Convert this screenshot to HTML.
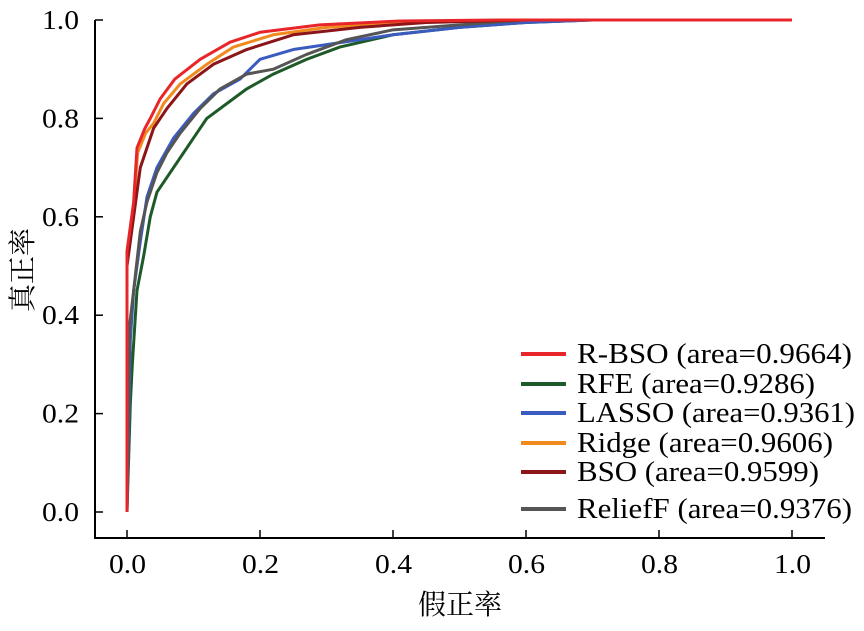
<!DOCTYPE html>
<html><head><meta charset="utf-8"><style>
body{margin:0;background:#fff;}
svg text{font-family:"Liberation Serif","Times New Roman",serif;fill:#000;}
svg text.cjk{font-family:"Noto Serif CJK SC","Noto Sans CJK SC",serif;}
</style></head><body>
<svg id="chart" width="864" height="626" xmlns="http://www.w3.org/2000/svg">
<g id="axes"></g>
<g id="series"></g>
<g id="legend"></g>
<text class="cjk" x="460" y="614" font-size="28" text-anchor="middle">假正率</text>
<text class="cjk" transform="translate(32,270) rotate(-90)" font-size="28" text-anchor="middle">真正率</text>
</svg>
<script>
const xTicks=[0,0.2,0.4,0.6,0.8,1.0];
const yTicks=[0,0.2,0.4,0.6,0.8,1.0];
const names=["R-BSO (area=0.9664)","RFE (area=0.9286)","LASSO (area=0.9361)","Ridge (area=0.9606)","BSO (area=0.9599)","ReliefF (area=0.9376)"];
const colors=["#e8262a","#1e5a28","#3a5cc0","#f08a1e","#8b1518","#555555"];
const fprRBSO=[0,0,0.01,0.015,0.027,0.035,0.05,0.072,0.11,0.155,0.2,0.29,0.41,0.56,1];
const tprRBSO=[0,0.53,0.63,0.74,0.78,0.80,0.84,0.88,0.92,0.955,0.975,0.99,0.998,1,1];
const fprRFE=[0,0.005,0.008,0.015,0.025,0.035,0.045,0.06,0.08,0.1,0.12,0.15,0.18,0.22,0.27,0.32,0.4,0.5,0.6,0.7,1];
const tprRFE=[0,0.22,0.3,0.45,0.52,0.6,0.65,0.68,0.72,0.76,0.8,0.83,0.86,0.89,0.92,0.945,0.97,0.985,0.995,1,1];
const fprLASSO=[0,0.005,0.01,0.02,0.03,0.045,0.07,0.1,0.13,0.17,0.2,0.25,0.3,0.4,0.5,0.6,0.7,1];
const tprLASSO=[0,0.35,0.45,0.55,0.64,0.70,0.76,0.81,0.85,0.88,0.92,0.94,0.95,0.97,0.985,0.995,1,1];
const fprRidge=[0,0,0.01,0.016,0.028,0.04,0.055,0.08,0.12,0.16,0.22,0.3,0.42,0.58,1];
const tprRidge=[0,0.52,0.62,0.73,0.77,0.79,0.83,0.87,0.91,0.945,0.97,0.985,0.996,1,1];
const fprBSO=[0,0,0.01,0.02,0.04,0.06,0.09,0.13,0.18,0.25,0.35,0.45,0.6,1];
const tprBSO=[0,0.50,0.60,0.70,0.78,0.82,0.87,0.91,0.94,0.97,0.985,0.995,1,1];
const fprRelief=[0,0.004,0.01,0.02,0.03,0.045,0.06,0.08,0.11,0.14,0.18,0.22,0.27,0.33,0.4,0.5,0.6,1];
const tprRelief=[0,0.38,0.45,0.57,0.63,0.69,0.73,0.77,0.82,0.86,0.89,0.90,0.93,0.96,0.98,0.99,1,1];

const NS="http://www.w3.org/2000/svg";
const X=v=>127+v*665, Y=v=>512-v*492;
function mk(tag,attrs,parent){const e=document.createElementNS(NS,tag);for(const k in attrs)e.setAttribute(k,attrs[k]);parent.appendChild(e);return e;}
const axes=document.getElementById('axes');
let e=mk('line',{x1:95,y1:20,x2:95,y2:539,stroke:'#000','stroke-width':2},axes);


e=mk('line',{x1:94,y1:538,x2:825,y2:538,stroke:'#000','stroke-width':2},axes);


xTicks.forEach(t=>{
 let l=mk('line',{x1:X(t),y1:538,x2:X(t),y2:530,stroke:'#000','stroke-width':1.5},axes);
 
 
 let tx=mk('text',{x:X(t)-18,y:573,'font-size':27,textLength:37,lengthAdjust:'spacingAndGlyphs'},axes);tx.textContent=t.toFixed(1);
 
 
});
yTicks.forEach(t=>{
 let l=mk('line',{x1:95,y1:Y(t),x2:103,y2:Y(t),stroke:'#000','stroke-width':1.5},axes);
 
 
 let tx=mk('text',{x:42,y:Y(t)+9,'font-size':27,textLength:37,lengthAdjust:'spacingAndGlyphs'},axes);tx.textContent=t.toFixed(1);
 
 
});
const series=[[fprRFE,tprRFE,1],[fprLASSO,tprLASSO,2],[fprRelief,tprRelief,5],[fprRidge,tprRidge,3],[fprBSO,tprBSO,4],[fprRBSO,tprRBSO,0]];
const sg=document.getElementById('series');
series.forEach(([fx,ty,i])=>{
 let pts=[];
 for(let k=0;k<fx.length;k++){pts.push(X(fx[k])+','+Y(ty[k]));}
 let p=mk('polyline',{points:pts.join(' '),fill:'none',stroke:colors[i],'stroke-width':3,'stroke-linejoin':'round'},sg);
 
 
});
const lg=document.getElementById('legend');
const ly=[354,384,413,443,472,509];
const lw=[275,238,278,256,242,275];
names.forEach((n,i)=>{
 let l=mk('line',{x1:521,y1:ly[i],x2:566,y2:ly[i],stroke:colors[i],'stroke-width':4},lg);
 
 
 let t=mk('text',{x:577,y:ly[i]+9,'font-size':28,textLength:lw[i],lengthAdjust:'spacingAndGlyphs'},lg);t.textContent=n;
 
 
});
</script>
</body></html>
